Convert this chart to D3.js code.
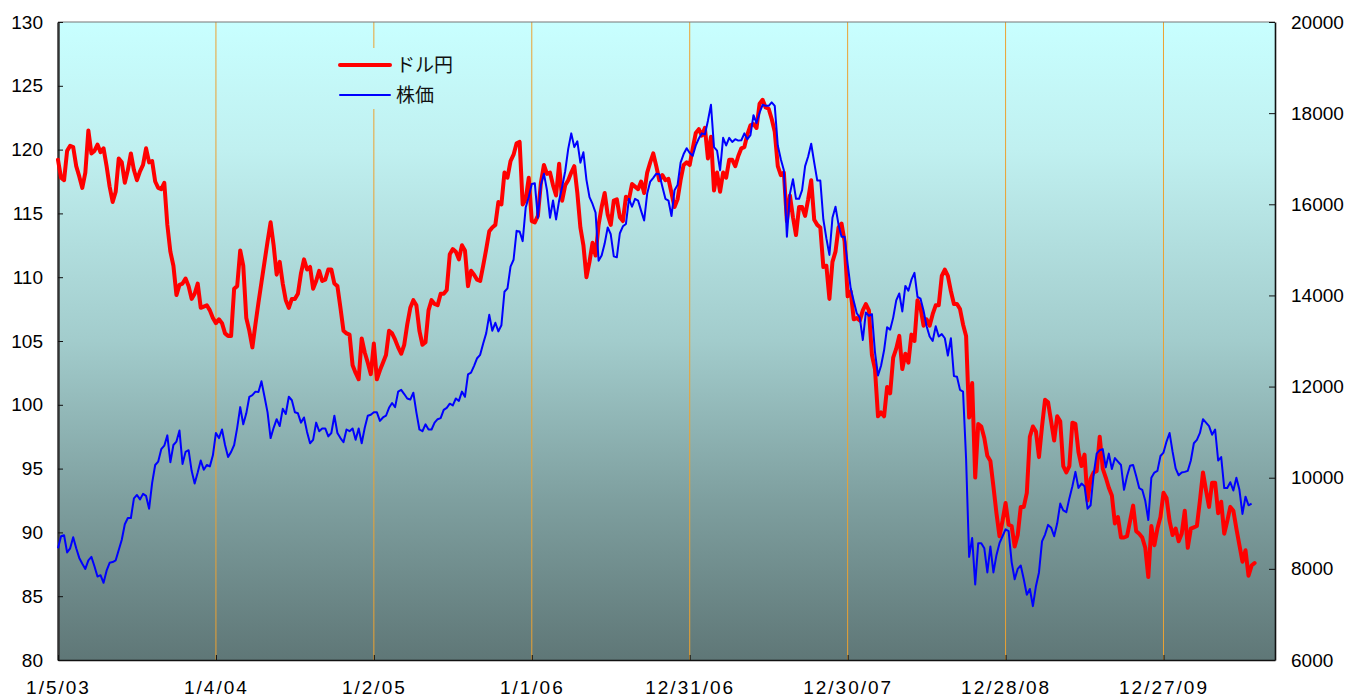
<!DOCTYPE html>
<html>
<head>
<meta charset="utf-8">
<script src="https://cdn.jsdelivr.net/npm/d3@7"></script>
<style>
  html, body { margin: 0; padding: 0; background: #fff; }
  svg { display: block; }
  .tick text { font-family: "Liberation Sans", Arial, sans-serif; font-size: 19px; fill: #000; }
  .legend text { font-family: "Noto Sans CJK JP", sans-serif; font-size: 19px; fill: #111; }
</style>
</head>
<body>
<div id="chart"></div>
<script>
(function() {
// weekly closes, first week = startDate
const startDate = Date.UTC(2003, 0, 5);

const usdJpy = [
  119.2, 117.8, 117.6, 119.9, 120.3, 120.2, 118.7, 117.9, 117.0, 118.2,
  121.5, 119.7, 119.9, 120.4, 119.8, 120.1, 118.7, 117.1, 115.9, 116.7,
  119.3, 119.0, 117.4, 118.4, 119.7, 118.4, 117.6, 118.3, 118.8, 120.1,
  119.0, 119.1, 117.5, 117.0, 116.9, 117.4, 114.1, 112.0, 110.9, 108.6,
  109.4, 109.5, 109.9, 109.3, 108.3, 108.7, 109.5, 107.6, 107.7, 107.8,
  107.4, 106.8, 106.4, 106.7, 106.4, 105.6, 105.4, 105.4, 109.1, 109.3,
  112.1, 110.9, 106.8, 105.8, 104.5, 106.3, 108.0, 109.6, 111.2, 112.8,
  114.3, 112.5, 110.2, 111.2, 109.5, 108.2, 107.6, 108.3, 108.3, 108.7,
  110.3, 111.4, 110.6, 110.8, 109.1, 109.7, 110.5, 109.7, 109.8, 110.6,
  110.6, 109.5, 109.3, 107.6, 105.8, 105.6, 105.5, 103.1, 102.5, 102.0,
  105.2, 104.1, 103.3, 102.4, 104.8, 102.0, 102.7, 103.3, 103.9, 105.8,
  105.6, 105.1, 104.5, 104.0, 104.7, 106.3, 107.6, 108.2, 107.8, 105.8,
  104.7, 104.9, 107.4, 108.2, 107.9, 107.8, 108.7, 108.7, 109.0, 111.8,
  112.2, 112.0, 111.4, 112.5, 112.1, 109.3, 110.5, 110.2, 109.8, 109.7,
  110.9, 112.2, 113.6, 113.9, 114.1, 115.9, 115.7, 118.2, 117.8, 119.1,
  119.6, 120.5, 120.6, 115.7, 116.1, 117.8, 114.4, 114.3, 114.8, 117.4,
  118.8, 118.1, 118.2, 117.2, 116.4, 118.9, 116.0, 117.2, 117.6, 118.2,
  118.7, 116.6, 113.9, 112.5, 110.0, 111.2, 112.7, 111.7, 114.1, 115.5,
  116.6, 114.9, 114.1, 116.0, 116.1, 114.7, 114.4, 116.3, 116.1, 117.3,
  117.1, 116.9, 117.5, 116.6, 118.2, 119.0, 119.7, 118.7, 117.6, 118.0,
  117.6, 117.7, 116.6, 115.5, 116.1, 117.6, 118.8, 119.0, 118.8, 120.1,
  121.3, 121.6, 121.1, 121.7, 119.3, 121.0, 116.8, 118.2, 116.7, 118.2,
  117.8, 119.2, 119.2, 118.7, 119.5, 120.1, 120.2, 121.2, 121.9, 122.0,
  121.7, 123.6, 123.9, 123.3, 123.2, 122.4, 121.4, 118.7, 118.0, 118.2,
  114.4, 116.4, 114.7, 113.3, 115.5, 115.5, 114.8, 116.1, 117.6, 114.5,
  114.1, 113.9, 110.8, 110.9, 108.3, 111.2, 112.0, 113.9, 114.2, 112.8,
  108.5, 108.9, 106.7, 106.8, 106.6, 107.4, 107.9, 107.4, 103.9, 102.8,
  99.1, 99.4, 99.1, 101.4, 100.9, 103.7, 104.4, 105.4, 102.8, 104.0,
  103.3, 105.5, 105.0, 108.2, 107.6, 106.2, 106.7, 106.2, 107.1, 107.8,
  107.8, 110.1, 110.6, 110.1, 108.9, 107.9, 107.9, 107.5, 106.3, 105.4,
  99.0, 101.7, 94.3, 98.5, 98.3, 97.4, 96.0, 95.6, 93.6, 91.5,
  89.7, 90.9, 92.3, 90.6, 90.5, 88.9, 89.8, 92.0, 92.0, 93.1,
  97.5, 98.3, 97.9, 95.9, 98.3, 100.4, 100.2, 98.7, 97.2, 99.1,
  98.7, 95.2, 94.7, 95.2, 98.6, 98.5, 96.3, 95.2, 96.1, 92.5,
  94.2, 94.7, 94.8, 97.5, 95.0, 94.3, 93.5, 92.9, 90.7, 91.2,
  89.6, 89.6, 89.7, 90.9, 92.1, 90.1, 89.9, 89.6, 88.8, 86.5,
  90.5, 89.0, 90.3, 91.2, 93.1, 92.7, 90.9, 89.8, 90.3, 89.3,
  89.9, 91.7, 88.8, 90.3, 90.4, 90.5, 92.5, 94.7, 93.3, 92.0,
  93.9, 93.9, 91.5, 92.4, 89.9, 90.9, 92.0, 91.7, 90.3, 89.0,
  87.7, 88.6, 86.6, 87.4, 87.6
];

const nikkei = [
  8451, 8715, 8738, 8360, 8451, 8693, 8451, 8240, 8111, 7998,
  8187, 8262, 8058, 7831, 7861, 7695, 7960, 8133, 8149, 8187,
  8413, 8640, 8980, 9116, 9116, 9546, 9622, 9524, 9645, 9600,
  9320, 9886, 10279, 10355, 10627, 10703, 10929, 10340, 10718, 10793,
  11035, 10302, 10567, 10604, 10151, 9871, 10113, 10378, 10174, 10279,
  10249, 10491, 10982, 10869, 11058, 10718, 10453, 10567, 10718, 11095,
  11549, 11171, 11413, 11776, 11813, 11889, 11880, 12115, 11776, 11435,
  10869, 11095, 11284, 11133, 11511, 11398, 11776, 11700, 11435, 11413,
  11209, 11322, 11005, 10756, 10831, 11209, 11020, 11081, 11081, 10907,
  10982, 11360, 10982, 10869, 10778, 11058, 11020, 11081, 10831, 11081,
  10756, 11095, 11360, 11383, 11435, 11435, 11247, 11322, 11360, 11534,
  11640, 11549, 11889, 11927, 11836, 11738, 11715, 11866, 11435, 11058,
  11020, 11171, 11058, 11058, 11209, 11284, 11307, 11488, 11534, 11624,
  11587, 11738, 11685, 11889, 11776, 12266, 12304, 12456, 12622, 12697,
  12947, 13173, 13574, 13226, 13400, 13211, 13347, 14080, 14156, 14632,
  14783, 15417, 15402, 15191, 15931, 16158, 16445, 16460, 15705, 16422,
  16672, 16309, 15705, 16082, 15667, 16082, 16385, 16725, 17216, 17556,
  17254, 17382, 16914, 17140, 16536, 16158, 16007, 15818, 14760, 14874,
  15138, 15493, 15342, 14858, 14836, 15365, 15516, 15569, 16120, 15946,
  16120, 16082, 15856, 15644, 16234, 16498, 16580, 16672, 16660, 16385,
  16120, 16082, 15742, 16309, 16422, 16914, 17102, 17231, 17125, 17065,
  17291, 17443, 17556, 17533, 17835, 18183, 17254, 17178, 16747, 17458,
  17291, 17458, 17367, 17428, 17397, 17405, 17556, 17428, 17518, 17956,
  17783, 18009, 18183, 18160, 18160, 18236, 18160, 17291, 16989, 16747,
  15289, 16234, 16551, 16120, 16120, 16309, 16838, 17050, 17329, 16914,
  16520, 16520, 15667, 15251, 14889, 15705, 15946, 15553, 15289, 15289,
  14685, 14156, 13880, 13610, 13513, 13022, 13627, 13551, 13589, 12758,
  12244, 12456, 12796, 13302, 13249, 13513, 13891, 14042, 13649, 14209,
  14103, 14345, 14496, 13967, 13929, 13665, 13324, 13098, 13000, 13324,
  13098, 13151, 13060, 12682, 13060, 12229, 12214, 11927, 11889, 10416,
  8262, 8678, 7658, 8564, 8564, 8451, 7922, 8489, 7922, 8300,
  8564, 8715, 8866, 8829, 8149, 7771, 7998, 8073, 7771, 7431,
  7559, 7182, 7620, 7922, 8602, 8753, 8965, 8904, 8715, 9000,
  9433, 9282, 9244, 9546, 9811, 10128, 9773, 9871, 9811, 9320,
  9395, 10075, 10529, 10604, 10627, 10227, 10529, 10189, 10431, 10355,
  10279, 9735, 10038, 10264, 10279, 10038, 9773, 9735, 9493, 9071,
  10000, 10113, 10151, 10476, 10552, 10793, 10982, 10567, 10204, 10053,
  10113, 10128, 10151, 10378, 10756, 10831, 10982, 11284, 11209, 11133,
  10944, 11058, 10378, 10453, 9773, 9773, 9901, 9720, 10000, 9735,
  9206, 9584, 9395, 9433
];

const yenTicks = [80, 85, 90, 95, 100, 105, 110, 115, 120, 125, 130];
const stockTicks = [6000, 8000, 10000, 12000, 14000, 16000, 18000, 20000];
const tickWeeks = [0, 52, 104, 156, 208, 260, 312, 364];
const seriesNames = ["ドル円", "株価"];

const W = 1348, H = 699;
const PAD = { top: 22, right: 73, bottom: 39, left: 58 };
const innerW = W - PAD.left - PAD.right;
const innerH = H - PAD.top - PAD.bottom;

const weekDate = i => new Date(startDate + i * 7 * 864e5);

const svg = d3.select('#chart')
  .append('svg')
  .attr('width', W)
  .attr('height', H);

const g = svg.append('g')
  .attr('transform', `translate(${PAD.left},${PAD.top})`);

// scales
const x = d3.scaleUtc()
  .domain([new Date(startDate), new Date(startDate + 2805 * 864e5)])
  .range([0, innerW]);
const yL = d3.scaleLinear().domain([80, 130]).range([innerH, 0]);
const yR = d3.scaleLinear().domain([6000, 20000]).range([innerH, 0]);

// plot background gradient (user space so the legend box blends in)
const grad = svg.append('defs').append('linearGradient')
  .attr('id', 'plotBg')
  .attr('gradientUnits', 'userSpaceOnUse')
  .attr('x1', 0).attr('y1', 0)
  .attr('x2', 0).attr('y2', innerH);
[
  [0, '#c8ffff'], [0.2, '#c0f0f0'], [0.5, '#a2cccc'],
  [0.75, '#7e9f9f'], [1, '#5f7777']
].forEach(s => grad.append('stop').attr('offset', s[0]).attr('stop-color', s[1]));

g.append('rect')
  .attr('width', innerW)
  .attr('height', innerH)
  .attr('fill', 'url(#plotBg)');

// year gridlines
g.selectAll('.grid')
  .data(tickWeeks.slice(1))
  .enter()
  .append('line')
  .attr('x1', d => x(weekDate(d))).attr('x2', d => x(weekDate(d)))
  .attr('y1', 0).attr('y2', innerH)
  .attr('stroke', '#eba233')
  .attr('stroke-width', 1);

// top border
g.append('line')
  .attr('x1', 0).attr('x2', innerW)
  .attr('y1', 0).attr('y2', 0)
  .attr('stroke', '#777')
  .attr('stroke-width', 1.2);

// axes
const axL = g.append('g')
  .call(d3.axisLeft(yL).tickValues(yenTicks).tickSize(-5).tickSizeOuter(0).tickPadding(15));
axL.select('.domain').attr('stroke', '#333').attr('stroke-width', 2.5);

const axR = g.append('g')
  .attr('transform', `translate(${innerW},0)`)
  .call(d3.axisRight(yR).tickValues(stockTicks).tickFormat(d3.format('d'))
    .tickSize(-6).tickSizeOuter(0).tickPadding(16));
axR.select('.domain').attr('stroke', '#111').attr('stroke-width', 1.6);

const fmt = d3.utcFormat('%-m/%-d/%y');
const axB = g.append('g')
  .attr('transform', `translate(0,${innerH})`)
  .call(d3.axisBottom(x).tickValues(tickWeeks.map(weekDate)).tickFormat(fmt)
    .tickSize(-5).tickSizeOuter(0).tickPadding(21));
axB.select('.domain').attr('stroke', '#111').attr('stroke-width', 1.6);
axB.selectAll('.tick text').attr('letter-spacing', '2px');

g.selectAll('.tick line').attr('stroke', '#111');

// series
const yenLine = d3.line()
  .x((d, i) => x(weekDate(i)))
  .y(d => yL(d));
const stockLine = d3.line()
  .x((d, i) => x(weekDate(i)))
  .y(d => yR(d));

g.append('path')
  .datum(usdJpy)
  .attr('d', yenLine)
  .attr('fill', 'none')
  .attr('stroke', '#ff0000')
  .attr('stroke-width', 4)
  .attr('stroke-linejoin', 'round')
  .attr('stroke-linecap', 'round');

g.append('path')
  .datum(nikkei)
  .attr('d', stockLine)
  .attr('fill', 'none')
  .attr('stroke', '#0000ff')
  .attr('stroke-width', 2)
  .attr('stroke-linejoin', 'round');

// legend
const lg = g.append('g').attr('class', 'legend');
lg.append('rect')
  .attr('x', 272).attr('y', 26)
  .attr('width', 130).attr('height', 61)
  .attr('fill', 'url(#plotBg)');

const items = [
  { name: seriesNames[0], color: '#ff0000', width: 4, y: 43 },
  { name: seriesNames[1], color: '#0000ff', width: 2, y: 73 }
];
items.forEach(it => {
  lg.append('line')
    .attr('x1', 282).attr('x2', 332)
    .attr('y1', it.y).attr('y2', it.y)
    .attr('stroke', it.color)
    .attr('stroke-width', it.width)
    .attr('stroke-linecap', 'round');
  lg.append('text')
    .attr('x', 338)
    .attr('y', it.y)
    .attr('dy', '0.38em')
    .text(it.name);
});
})();
</script>
</body>
</html>
